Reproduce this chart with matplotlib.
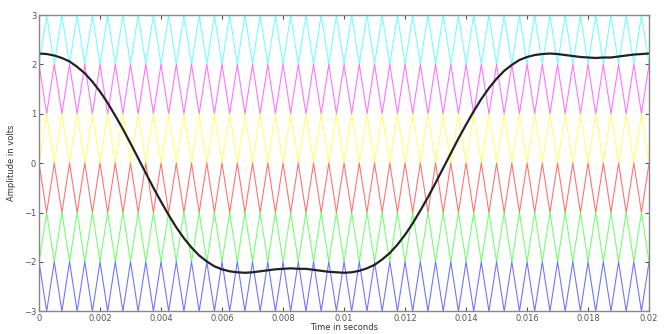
import matplotlib
matplotlib.use("Agg")
import matplotlib.pyplot as plt

# sample times (0.25 ms steps); also the carrier corner times, 40 carrier cycles
time_s = [0.00000, 0.00025, 0.00050, 0.00075, 0.00100, 0.00125, 0.00150, 0.00175, 0.00200, 0.00225,
          0.00250, 0.00275, 0.00300, 0.00325, 0.00350, 0.00375, 0.00400, 0.00425, 0.00450, 0.00475,
          0.00500, 0.00525, 0.00550, 0.00575, 0.00600, 0.00625, 0.00650, 0.00675, 0.00700, 0.00725,
          0.00750, 0.00775, 0.00800, 0.00825, 0.00850, 0.00875, 0.00900, 0.00925, 0.00950, 0.00975,
          0.01000, 0.01025, 0.01050, 0.01075, 0.01100, 0.01125, 0.01150, 0.01175, 0.01200, 0.01225,
          0.01250, 0.01275, 0.01300, 0.01325, 0.01350, 0.01375, 0.01400, 0.01425, 0.01450, 0.01475,
          0.01500, 0.01525, 0.01550, 0.01575, 0.01600, 0.01625, 0.01650, 0.01675, 0.01700, 0.01725,
          0.01750, 0.01775, 0.01800, 0.01825, 0.01850, 0.01875, 0.01900, 0.01925, 0.01950, 0.01975,
          0.02000]

# reference wave
ref_v = [2.22, 2.21, 2.18, 2.13, 2.06, 1.95, 1.82, 1.65, 1.45, 1.22,
         0.96, 0.69, 0.40, 0.10, -0.20, -0.50, -0.78, -1.05, -1.30, -1.52,
         -1.71, -1.87, -1.99, -2.09, -2.15, -2.19, -2.21, -2.22, -2.21, -2.19,
         -2.17, -2.15, -2.14, -2.13, -2.14, -2.14, -2.16, -2.18, -2.20, -2.21,
         -2.22, -2.21, -2.18, -2.13, -2.06, -1.95, -1.82, -1.65, -1.45, -1.22,
         -0.96, -0.69, -0.40, -0.10, 0.20, 0.50, 0.78, 1.05, 1.30, 1.52,
         1.71, 1.87, 1.99, 2.09, 2.15, 2.19, 2.21, 2.22, 2.21, 2.19,
         2.17, 2.15, 2.14, 2.13, 2.14, 2.14, 2.16, 2.18, 2.20, 2.21,
         2.22]

carrier_low = [2, 1, 0, -1, -2, -3]
carrier_high = [3, 2, 1, 0, -1, -2]
carrier_starts_low = [True, False, True, False, True, False]
carrier_colors = ["#00ffff", "#ff00ff", "#ffff00", "#ff0000", "#00ff00", "#0000ff"]

x_ticks = [0, 0.002, 0.004, 0.006, 0.008, 0.01, 0.012, 0.014, 0.016, 0.018, 0.02]
x_tick_labels = ["0", "0.002", "0.004", "0.006", "0.008", "0.01", "0.012", "0.014", "0.016", "0.018", "0.02"]
y_ticks = [-3, -2, -1, 0, 1, 2, 3]

fig = plt.figure(figsize=(6.66, 3.34), dpi=100)
ax = fig.add_axes([0.0586, 0.068, 0.916, 0.887])

# level shifted triangular carriers
for lo, hi, start_low, col in zip(carrier_low, carrier_high, carrier_starts_low, carrier_colors):
    vals = []
    for i in range(len(time_s)):
        at_low = (i % 2 == 0) == start_low
        vals.append(lo if at_low else hi)
    ax.plot(time_s, vals, color=col, lw=0.8, alpha=0.55)

ax.plot(time_s, ref_v, color="#222222", lw=1.6)

ax.set_xlim(0, 0.02)
ax.set_ylim(-3, 3)
ax.set_xticks(x_ticks)
ax.set_xticklabels(x_tick_labels)
ax.set_yticks(y_ticks)
ax.tick_params(direction="in", top=True, right=True, length=3, labelsize=6,
               colors="#555555", pad=2)
for s in ax.spines.values():
    s.set_color("#888888")
    s.set_linewidth(1.0)

ax.set_xlabel("Time in seconds", fontsize=6, color="#333333", labelpad=0)
ax.set_ylabel("Amplitude in volts", fontsize=6, color="#333333", labelpad=6)

fig.savefig("out.png", dpi=100)
